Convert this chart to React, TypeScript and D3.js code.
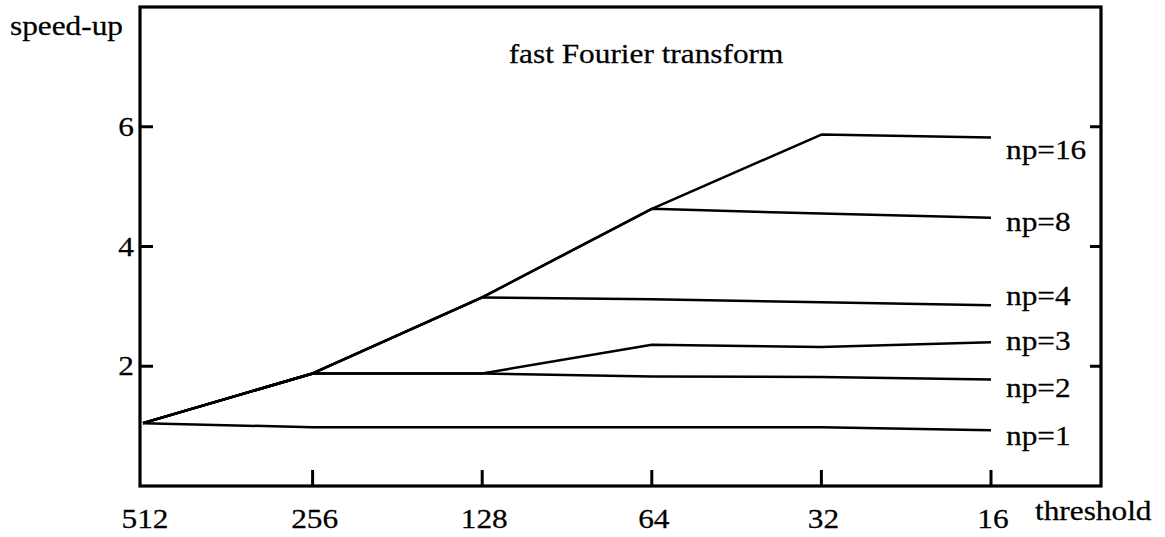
import React, { useRef, useEffect } from "react";
import * as d3 from "d3";

const thresholds = [512, 256, 128, 64, 32, 16];
const np1 = [1.05, 0.98, 0.98, 0.98, 0.98, 0.93];
const np2 = [1.05, 1.88, 1.88, 1.83, 1.82, 1.78];
const np3 = [1.05, 1.88, 1.88, 2.36, 2.32, 2.4];
const np4 = [1.05, 1.88, 3.15, 3.12, 3.07, 3.02];
const np8 = [1.05, 1.88, 3.15, 4.63, 4.55, 4.48];
const np16 = [1.05, 1.88, 3.15, 4.63, 5.87, 5.82];
const seriesNames = ["np=1", "np=2", "np=3", "np=4", "np=8", "np=16"];
const yTicks = [2, 4, 6];

const W = 1165;
const H = 537;
const FONT = "'Liberation Serif', 'DejaVu Serif', serif";
const SX = 1.16; // horizontal stretch of the text in the original

const App = () => {
  const ref = useRef<SVGSVGElement>(null);

  useEffect(() => {
    const svg = d3.select(ref.current);
    svg.selectAll("*").remove();

    const left = 140, right = 1101, top = 7, bottom = 486;
    const x = d3.scaleLog().base(2).domain([512, 16]).range([143, 991]);
    const y = d3.scaleLinear().domain([0, 8]).range([bottom, top]);

    const series = [np1, np2, np3, np4, np8, np16];
    // small vertical nudges of the end labels, as in the original
    const labelNudge = [15, 18, 8, 0, 13, 21];

    const line = d3
      .line<number>()
      .x((_, i) => x(thresholds[i]))
      .y((d) => y(d));

    const g = svg.append("g");

    const label = (tx: number, ty: number, txt: string, anchor = "start") =>
      g
        .append("text")
        .attr("transform", `translate(${tx}, ${ty}) scale(${SX},1)`)
        .attr("text-anchor", anchor)
        .style("font-family", FONT)
        .style("font-size", "27px")
        .attr("fill", "#000")
        .attr("stroke", "#000")
        .attr("stroke-width", 0.25)
        .text(txt);

    series.forEach((s, k) => {
      g.append("path")
        .attr("d", line(s))
        .attr("fill", "none")
        .attr("stroke", "#000")
        .attr("stroke-width", 2.5)
        .attr("stroke-linejoin", "round");

      const last = s[s.length - 1];
      label(x(16) + 15, y(last) + labelNudge[k], seriesNames[k]);
    });

    // frame
    g.append("rect")
      .attr("x", left)
      .attr("y", top)
      .attr("width", right - left)
      .attr("height", bottom - top)
      .attr("fill", "none")
      .attr("stroke", "#000")
      .attr("stroke-width", 3.2);

    // y ticks, left and right, pointing inward
    yTicks.forEach((t) => {
      g.append("line")
        .attr("x1", left)
        .attr("x2", left + 13)
        .attr("y1", y(t))
        .attr("y2", y(t))
        .attr("stroke", "#000")
        .attr("stroke-width", 3);
      g.append("line")
        .attr("x1", right)
        .attr("x2", right - 11)
        .attr("y1", y(t))
        .attr("y2", y(t))
        .attr("stroke", "#000")
        .attr("stroke-width", 3);
      label(left - 6, y(t) + 9, String(t), "end");
    });

    // x ticks
    thresholds.forEach((t, i) => {
      if (i > 0) {
        g.append("line")
          .attr("x1", x(t))
          .attr("x2", x(t))
          .attr("y1", bottom)
          .attr("y2", bottom - 16)
          .attr("stroke", "#000")
          .attr("stroke-width", 3);
      }
      label(x(t) + 2, 528, String(t), "middle");
    });

    label(1035, 520, "threshold");
    label(10, 35, "speed-up");
    label(646, 63, "fast Fourier transform", "middle");

    return () => {
      d3.select(ref.current).selectAll("*").remove();
    };
  }, []);

  return (
    <svg
      ref={ref}
      width={W}
      height={H}
      style={{ position: "absolute", left: 0, top: 0, background: "#fff" }}
    />
  );
};

export default App;
